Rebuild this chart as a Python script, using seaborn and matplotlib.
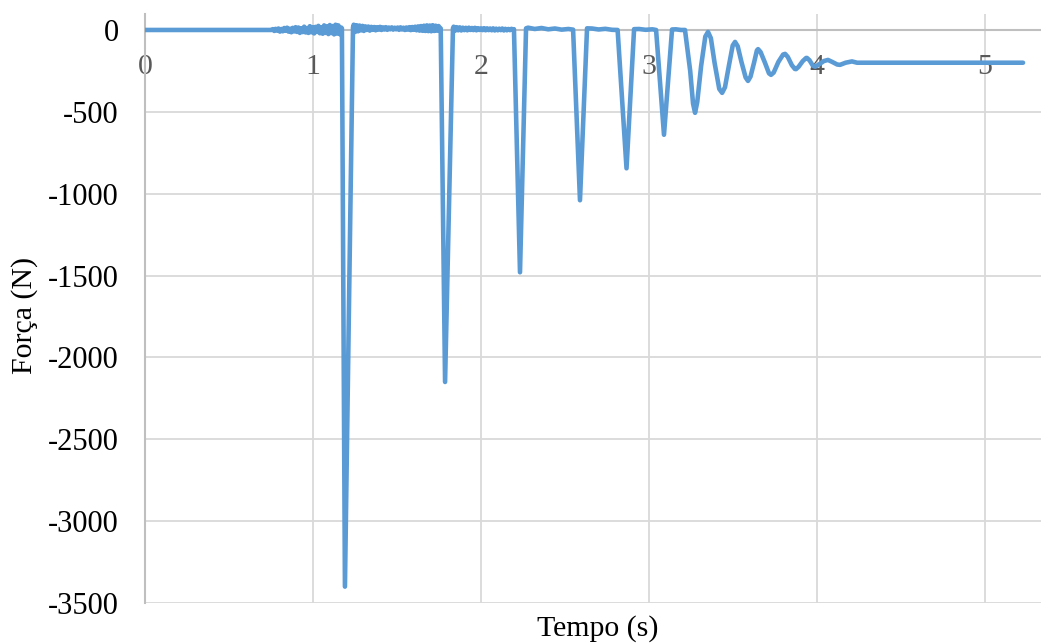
import numpy as np
import pandas as pd
import matplotlib
matplotlib.use("Agg")
import matplotlib.pyplot as plt
import seaborn as sns

# quiet start
t_start = [0.0, 0.75]
f_start = [0, 0]

# noise before first impact (t 0.75 -> 1.17)
f_noise1 = [0, 5, -6, 7, -4, 9, -10, 6, -8, 12, -5, 14, -10, 8, -14, 13, -9, 17, -12, 15,
            -18, 10, -13, 20, -15, 12, -18, 23, -14, 17, -21, 19, -12, 25, -20, 16, -23, 28, -18, 22,
            -25, 30, -19, 24, -27, 32, -22, 28, -26, 15]
t_noise1 = np.linspace(0.752, 1.168, len(f_noise1))

t_spike1 = [1.172, 1.19, 1.238]
f_spike1 = [10, -3400, 15]

f_noise2 = [32, -12, 29, -8, 27, -3, 25, -6, 22, 0, 21, -4, 19, 1, 18, -2, 17, 2, 19, 0,
            16, 3, 17, 1, 15, 4, 16, 2, 14, 4, 15, 1, 16, 3, 14, 0, 15, 2, 17, -1,
            18, 1, 20, -2, 22, -4, 24, -5, 26, -6, 28, -7, 27, -8, 29, -6, 26, -5, 24, 12]
t_noise2 = np.linspace(1.242, 1.756, len(f_noise2))

t_spike2 = [1.76, 1.786, 1.833]
f_spike2 = [10, -2150, 10]

f_noise3 = [20, -4, 17, -2, 16, -3, 14, -1, 13, -2, 14, 0, 12, -1, 13, -2, 11, 0, 10, -1,
            11, -2, 10, -1, 9, -2, 10, -3, 8, -2, 8, -1, 9, -3, 7, -2, 6, -1, 7, 3]
t_noise3 = np.linspace(1.837, 2.19, len(f_noise3))

t_spike3 = [2.196, 2.232, 2.268]
f_spike3 = [5, -1480, 10]

t_quiet = [2.28, 2.32, 2.36, 2.40, 2.44, 2.48, 2.52,
           2.548, 2.589, 2.631,
           2.66, 2.70, 2.74, 2.78,
           2.813, 2.866, 2.911,
           2.94, 2.98, 3.02,
           3.042, 3.089, 3.137,
           3.16, 3.19]
f_quiet = [14, 6, 12, 4, 9, 2, 6,
           2, -1040, 10,
           9, 3, 7, 1,
           0, -845, 5,
           6, 1, 4,
           0, -640, 3,
           4, 0]

# last impact and damped oscillation
t_osc = [3.214, 3.245, 3.262, 3.274, 3.287, 3.31, 3.335, 3.351, 3.368, 3.39,
         3.418, 3.435, 3.452, 3.475, 3.498, 3.512, 3.528, 3.55, 3.575, 3.589,
         3.604, 3.625, 3.642, 3.649, 3.664, 3.69, 3.714, 3.726, 3.742, 3.77,
         3.798, 3.810, 3.826, 3.85, 3.868, 3.875, 3.89, 3.915, 3.935, 3.940,
         3.955, 3.975, 3.988, 4.005, 4.04, 4.065, 4.09, 4.12, 4.137, 4.17,
         4.208, 4.238, 5.226]
f_osc = [0, -250, -450, -506, -440, -220, -40, -12, -50, -200,
         -360, -384, -350, -220, -95, -73, -100, -195, -290, -311,
         -285, -200, -125, -117, -135, -200, -265, -274, -260, -195,
         -150, -146, -165, -215, -238, -239, -225, -190, -171, -171,
         -185, -218, -224, -215, -190, -183, -195, -211, -213, -200,
         -192, -200, -200]

tempo = np.concatenate([t_start, t_noise1, t_spike1, t_noise2, t_spike2,
                        t_noise3, t_spike3, t_quiet, t_osc])
forca = np.concatenate([f_start, f_noise1, f_spike1, f_noise2, f_spike2,
                        f_noise3, f_spike3, f_quiet, f_osc])
df = pd.DataFrame({"Tempo": tempo, "Forca": forca})

sns.set_theme(style="white")
plt.rcParams['font.family'] = ['Liberation Serif', 'DejaVu Serif']
plt.rcParams['axes.unicode_minus'] = False

fig = plt.figure(figsize=(10.41, 6.44), dpi=100)
ax = fig.add_axes([145 / 1041, 1 - 603 / 644, 895.5 / 1041, 589.4 / 644])

sns.lineplot(data=df, x="Tempo", y="Forca", sort=False, estimator=None,
             color="#5B9BD5", lw=3.3, ax=ax, solid_joinstyle="round", zorder=3)

ax.set_xlim(0, 5.33)
ax.set_ylim(-3500, 100)
ax.set_xticks(range(0, 6))
ax.set_yticks(range(-3500, 1, 500))
ax.grid(True, color="#D9D9D9", lw=1.3, zorder=0)
ax.axhline(0, color="#BFBFBF", lw=1.5, zorder=1)

for s in ["top", "right"]:
    ax.spines[s].set_visible(False)
ax.spines["bottom"].set_position(("data", 0))
ax.spines["bottom"].set_visible(False)
ax.spines["left"].set_color("#BFBFBF")
ax.spines["left"].set_linewidth(1.5)

ax.tick_params(axis="x", length=0, pad=17, labelsize=21.5, labelcolor="#595959")
ax.tick_params(axis="y", length=0, pad=19, labelsize=22, labelcolor="black")
ax.set_xlabel("")
ax.set_ylabel("")

fig.text(598 / 1041, 1 - 629 / 644, "Tempo (s)", ha="center", va="center",
         fontsize=21.5, color="black")
fig.text(25 / 1041, 1 - 315 / 644, "Força (N)", ha="center", va="center",
         rotation=90, fontsize=21.5, color="black")

fig.savefig("out.png", dpi=100)
